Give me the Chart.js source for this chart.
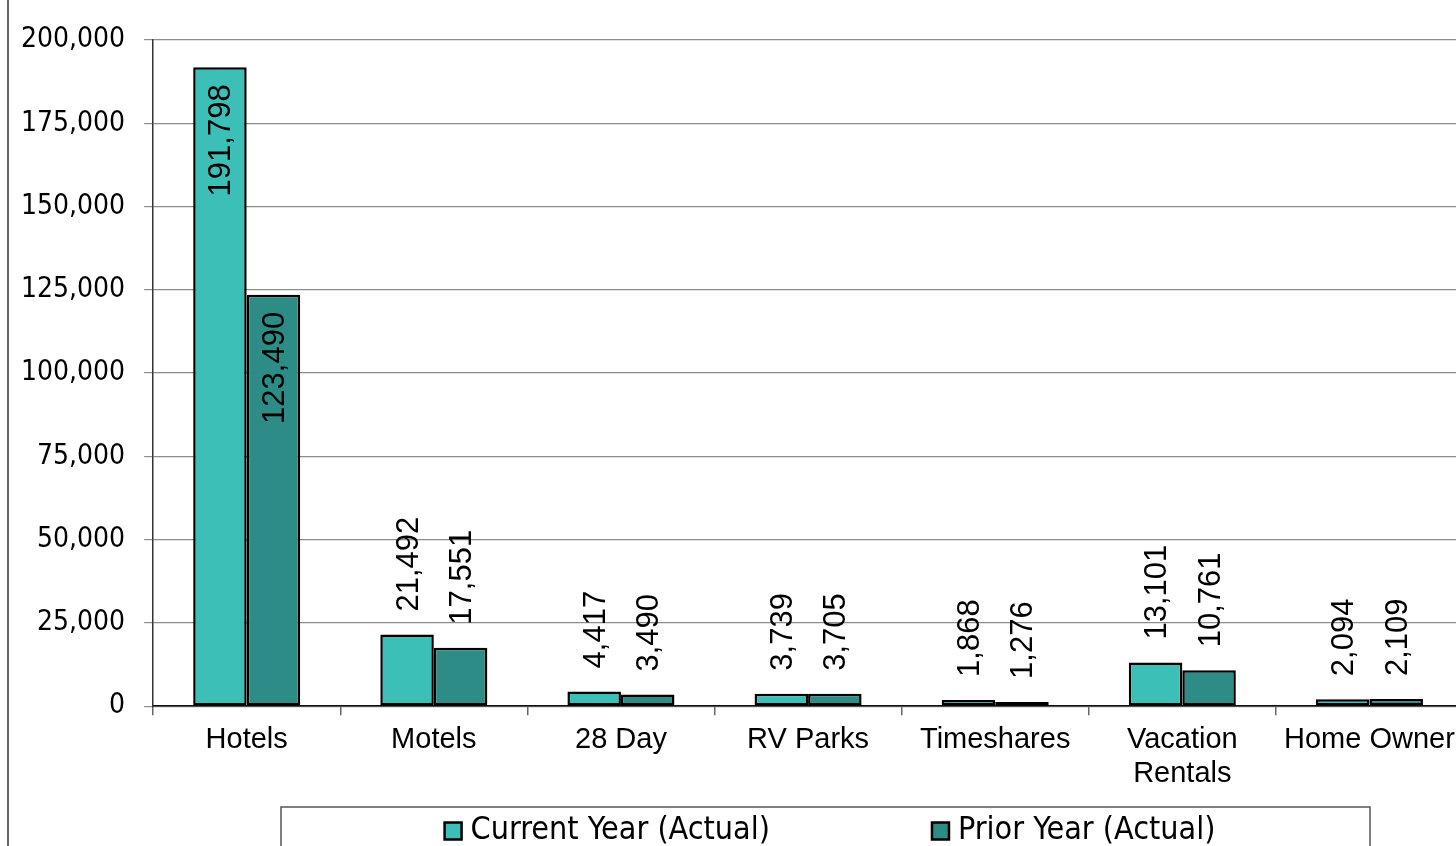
<!DOCTYPE html>
<html>
<head>
<meta charset="utf-8">
<script src="https://cdn.jsdelivr.net/npm/chart.js@4.4.1/dist/chart.umd.min.js"></script>
<style>
    html, body { margin: 0; padding: 0; background: #fff; overflow: hidden; }
    #wrap { position: relative; width: 1463px; height: 846px; }
</style>
</head>
<body>
<div id="wrap"><canvas id="resultsChart"></canvas></div>
<script>
const categories = ['Hotels', 'Motels', '28 Day', 'RV Parks', 'Timeshares', ['Vacation', 'Rentals'], 'Home Owner'];
const currentYear = [191798, 21492, 4417, 3739, 1868, 13101, 2094];
const priorYear = [123490, 17551, 3490, 3705, 1276, 10761, 2109];
const seriesNames = ['Current Year (Actual)', 'Prior Year (Actual)'];
const yMax = 200000;
const yStep = 25000;

const fmt = v => v.toLocaleString('en-US');

// value labels, rotated; inside the bar when it is too tall
const barLabels = {
    id: 'barLabels',
    afterDatasetsDraw(chart) {
        const ctx = chart.ctx;
        ctx.save();
        ctx.font = '31px "Liberation Sans", Arial, sans-serif';
        ctx.fillStyle = '#000';
        ctx.textBaseline = 'middle';
        chart.data.datasets.forEach((ds, i) => {
            chart.getDatasetMeta(i).data.forEach((bar, j) => {
                const v = ds.data[j];
                ctx.save();
                if (v > 100000) {
                    ctx.translate(bar.x + 2, bar.y + 17);
                    ctx.rotate(-Math.PI / 2);
                    ctx.textAlign = 'right';
                } else {
                    ctx.translate(bar.x + 2, bar.y - 23);
                    ctx.rotate(-Math.PI / 2);
                    ctx.textAlign = 'left';
                }
                ctx.fillText(fmt(v), 0, 0);
                ctx.restore();
            });
        });
        ctx.restore();
    }
};

// chart border on the left and the boxed legend at the bottom
const frame = {
    id: 'frame',
    afterDraw(chart) {
        const ctx = chart.ctx;
        ctx.save();
        ctx.strokeStyle = '#333';
        ctx.lineWidth = 1.5;
        ctx.beginPath();
        ctx.moveTo(8, 0);
        ctx.lineTo(8, chart.height);
        ctx.stroke();

        ctx.strokeStyle = '#555';
        ctx.lineWidth = 1.5;
        ctx.strokeRect(281, 807, 1089, 80);

        ctx.font = '32px "DejaVu Sans Condensed", "DejaVu Sans", sans-serif';
        ctx.textBaseline = 'middle';
        ctx.textAlign = 'left';
        const gap = 162, box = 17, space = 9;
        const widths = chart.data.datasets.map(ds => box + space + ctx.measureText(ds.label).width);
        const total = widths.reduce((a, b) => a + b, 0) + gap;
        let x = 830 - total / 2;
        const yc = 831;
        chart.data.datasets.forEach((ds, i) => {
            ctx.fillStyle = ds.backgroundColor;
            ctx.fillRect(x, yc - box / 2, box, box);
            ctx.strokeStyle = '#000';
            ctx.lineWidth = 2.5;
            ctx.strokeRect(x, yc - box / 2, box, box);
            ctx.fillStyle = '#000';
            ctx.fillText(ds.label, x + box + space, yc);
            x += widths[i] + gap;
        });
        ctx.restore();
    }
};

const ctx = document.getElementById('resultsChart').getContext('2d');
// eslint-disable-next-line no-undef
new Chart(ctx, {
    type: 'bar',
    data: {
        labels: categories,
        datasets: [
            {
                label: seriesNames[0],
                data: currentYear,
                backgroundColor: '#3cbfb6',
                borderColor: '#000',
                borderWidth: 2.5,
                borderSkipped: false
            },
            {
                label: seriesNames[1],
                data: priorYear,
                backgroundColor: '#2e8c86',
                borderColor: '#000',
                borderWidth: 2.5,
                borderSkipped: false
            }
        ]
    },
    options: {
        responsive: true,
        maintainAspectRatio: false,
        animation: false,
        devicePixelRatio: 1,
        categoryPercentage: 0.572,
        barPercentage: 1,
        layout: { padding: { left: 2, top: 40, right: 0, bottom: 47 } },
        plugins: {
            legend: { display: false },
            tooltip: { enabled: false }
        },
        scales: {
            x: {
                grid: {
                    offset: true,
                    drawOnChartArea: false,
                    drawTicks: true,
                    tickLength: 9,
                    color: '#666',
                    lineWidth: 1.5
                },
                border: { color: '#111', width: 1.5 },
                ticks: {
                    color: '#000',
                    padding: 8,
                    maxRotation: 0,
                    autoSkip: false,
                    font: { family: '"Liberation Sans", Arial, sans-serif', size: 29, lineHeight: 1.17 }
                }
            },
            y: {
                min: 0,
                max: yMax,
                grid: {
                    color: '#8c8c8c',
                    lineWidth: 1.2,
                    tickLength: 9
                },
                border: { color: '#333', width: 1.5 },
                ticks: {
                    stepSize: yStep,
                    color: '#000',
                    padding: 19,
                    font: { family: '"DejaVu Sans Condensed", "DejaVu Sans", sans-serif', size: 28 },
                    callback: v => fmt(v)
                }
            }
        }
    },
    plugins: [barLabels, frame]
});
</script>
</body>
</html>
